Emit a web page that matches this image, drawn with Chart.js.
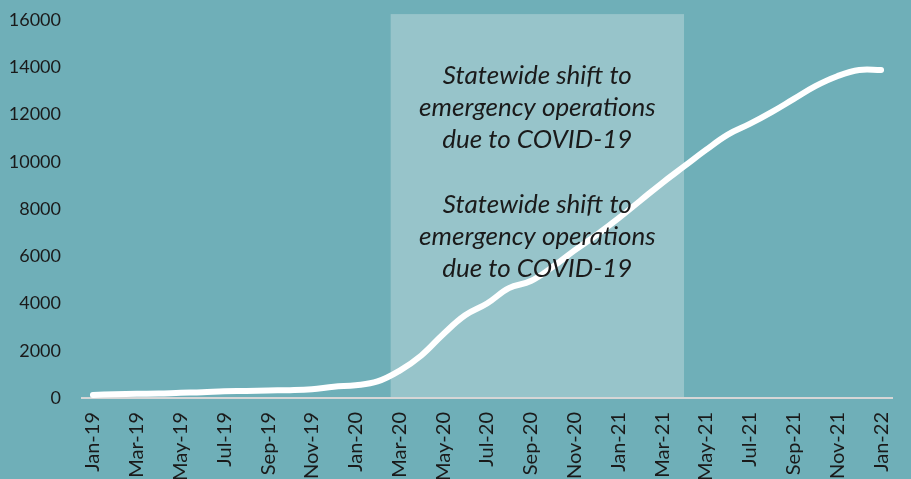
<!DOCTYPE html>
<html>
<head>
<meta charset="utf-8">
<script src="https://cdn.jsdelivr.net/npm/chart.js@4.4.1/dist/chart.umd.min.js"></script>
<style>
html,body{margin:0;padding:0;background:#6fafb8;overflow:hidden;}
#wrap{width:911px;height:479px;position:relative;}
canvas{display:block;}
</style>
</head>
<body>
<div id="wrap"><canvas id="c" width="911" height="479"></canvas></div>
<script>
// ---- data ----
const months = ['Jan-19','Feb-19','Mar-19','Apr-19','May-19','Jun-19','Jul-19','Aug-19','Sep-19','Oct-19','Nov-19','Dec-19',
                'Jan-20','Feb-20','Mar-20','Apr-20','May-20','Jun-20','Jul-20','Aug-20','Sep-20','Oct-20','Nov-20','Dec-20',
                'Jan-21','Feb-21','Mar-21','Apr-21','May-21','Jun-21','Jul-21','Aug-21','Sep-21','Oct-21','Nov-21','Dec-21',
                'Jan-22'];
const values = [130,160,180,190,220,240,290,300,320,330,370,480,
                540,700,1150,1800,2700,3500,4000,4650,4950,5550,6250,6900,
                7600,8350,9100,9800,10500,11150,11600,12100,12650,13200,13620,13880,
                13880];
const yTickValues = [0,2000,4000,6000,8000,10000,12000,14000,16000];
const shadeStart = 13.6;   // category index (Mar-20 edge)
const shadeEnd = 27;       // category index (Apr-21)
const shadeTop = 16250;
const noteLines = ['Statewide shift to','emergency operations','due to COVID-19'];
const noteAnchors = [13630, 8200];  // y values of first line of each note block

const BG = '#6fafb8';
const SHADE = '#97c4ca';
const TEXT = '#1a1a1a';

const shadePlugin = {
  id: 'shade',
  beforeDraw(chart) {
    const ctx = chart.ctx;
    ctx.save();
    ctx.fillStyle = BG;
    ctx.fillRect(0, 0, chart.width, chart.height);
    ctx.restore();
  },
  beforeDatasetsDraw(chart) {
    const {ctx, scales: {x, y}} = chart;
    const x0 = x.getPixelForValue(shadeStart);
    const x1 = x.getPixelForValue(shadeEnd);
    const y0 = y.getPixelForValue(shadeTop);
    const y1 = y.getPixelForValue(0);
    ctx.save();
    ctx.fillStyle = SHADE;
    ctx.fillRect(x0, y0, x1 - x0, y1 - y0 - 1);
    ctx.restore();
  },
  afterDatasetsDraw(chart) {
    const {ctx, scales: {x, y}} = chart;
    const cx = (x.getPixelForValue(shadeStart) + x.getPixelForValue(shadeEnd)) / 2;
    ctx.save();
    ctx.fillStyle = TEXT;
    ctx.font = 'italic 26px Lato';
    ctx.textAlign = 'center';
    ctx.textBaseline = 'middle';
    noteAnchors.forEach(a => {
      const y0 = y.getPixelForValue(a);
      noteLines.forEach((t, i) => ctx.fillText(t, cx, y0 + i * 32));
    });
    ctx.restore();
  }
};

new Chart(document.getElementById('c'), {
  type: 'line',
  data: {
    labels: months,
    datasets: [{
      data: values,
      borderColor: '#ffffff',
      borderWidth: 6,
      pointRadius: 0,
      tension: 0.4,
      borderCapStyle: 'round',
      borderJoinStyle: 'round',
      fill: false
    }]
  },
  options: {
    responsive: false,
    animation: false,
    devicePixelRatio: 1,
    layout: {padding: {top: 20, right: 19, bottom: 0, left: 0}},
    plugins: {legend: {display: false}, tooltip: {enabled: false}},
    scales: {
      x: {
        offset: true,
        grid: {display: true, drawOnChartArea: false, drawTicks: true, tickLength: 14, tickColor: 'rgba(0,0,0,0)'},
        border: {display: true, color: '#d6d6d6', width: 2},
        afterFit: s => { s.height = 81; },
        ticks: {
          autoSkip: false, maxRotation: 90, minRotation: 90, padding: 0,
          color: TEXT, font: {family: 'Lato', size: 20},
          callback: (v, i) => (i % 2 === 0 ? months[i] : '')
        }
      },
      y: {
        min: 0, max: 16000,
        grid: {display: true, drawOnChartArea: false, drawTicks: true, tickLength: 21, tickColor: 'rgba(0,0,0,0)'},
        border: {display: false},
        afterFit: s => { s.width = 82; },
        afterBuildTicks: s => { s.ticks = yTickValues.map(v => ({value: v})); },
        ticks: {padding: 0, color: TEXT, font: {family: 'Lato', size: 18},
                callback: v => String(v)}
      }
    }
  },
  plugins: [shadePlugin]
});
</script>
</body>
</html>
